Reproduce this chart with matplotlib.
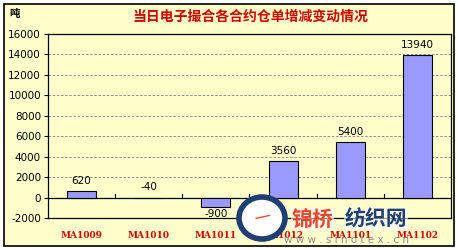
import numpy as np
import matplotlib.pyplot as plt
from matplotlib.patches import Rectangle, Ellipse

plt.rcParams['font.family'] = ['Noto Sans CJK SC', 'DejaVu Sans']

# data
contracts = ['MA1009', 'MA1010', 'MA1011', 'MA1012', 'MA1101', 'MA1102']
changes = [620, -40, -900, 3560, 5400, 13940]
y_ticks = [-2000, 0, 2000, 4000, 6000, 8000, 10000, 12000, 14000, 16000]

bg = '#FFFFCC'
bar_color = '#9999FF'

fig = plt.figure(figsize=(4.58, 2.5), dpi=100)
fig.patch.set_facecolor('white')

# outer frame
W, H = 458, 250
fig.patches.append(Rectangle((4 / W, 4 / H), 450 / W, 242 / H, transform=fig.transFigure,
                             facecolor=bg, edgecolor='black', linewidth=1.2, zorder=-10))

ax = fig.add_axes([48 / W, 32 / H, 403 / W, 184 / H])
ax.set_facecolor(bg)

x = np.arange(len(contracts))
ax.bar(x, changes, width=0.43, color=bar_color, edgecolor='black', linewidth=0.8, zorder=3)

for xi, v in zip(x, changes):
    if v > -300:
        ax.text(xi, max(v, 0) + 500, str(v), ha='center', va='bottom', fontsize=7.5,
                family='DejaVu Sans', zorder=4)
    else:
        ax.text(xi, v - 200, str(v), ha='center', va='top', fontsize=7.5,
                family='DejaVu Sans', zorder=4)

ax.set_xlim(-0.5, len(contracts) - 0.5)
ax.set_ylim(-2000, 16000)
ax.set_yticks(y_ticks)
ax.set_yticklabels([str(t) for t in y_ticks], fontsize=7.5, family='DejaVu Sans')
ax.tick_params(axis='y', length=3, width=0.8, pad=2)

# dashed grid
for t in y_ticks[2:-1]:
    ax.axhline(t, color='#808080', linestyle=(0, (3, 2)), linewidth=0.6, zorder=1)

# zero line with category separators
ax.axhline(0, color='black', linewidth=0.9, zorder=2)
for b in np.arange(0.5, len(contracts) - 0.5, 1):
    ax.plot([b, b], [0, 350], color='black', linewidth=0.8, zorder=2)

ax.set_xticks(x)
ax.set_xticklabels(contracts, fontsize=6.5, color='#CC0000', fontweight='heavy',
                   family='DejaVu Serif')
ax.tick_params(axis='x', length=0, pad=9)

for s in ax.spines.values():
    s.set_linewidth(0.9)

fig.text(9 / W, 1 - 14 / H, '吨', fontsize=7.5, fontweight='bold', va='center', ha='left')
fig.text(250 / W, 1 - 17 / H, '当日电子撮合各合约仓单增减变动情况', fontsize=10,
         fontweight='heavy', color='#CC0000', ha='center', va='center')

# watermark
fig.patches.append(Ellipse((262 / W, 1 - 218 / H), 46 / W, 42 / H, transform=fig.transFigure,
                           facecolor='white', edgecolor='#1F3F73', linewidth=4, zorder=9))
fig.text(262 / W, 1 - 216 / H, '—', fontsize=12, color='#E8472E', ha='center', va='center',
         rotation=12, zorder=10, family='DejaVu Sans')
fig.text(312 / W, 1 - 219 / H, '锦桥', fontsize=15, fontweight='bold', color='#E8472E',
         ha='center', va='center', zorder=10,
         bbox=dict(facecolor='white', edgecolor='none', alpha=0.6, pad=0.5))
fig.text(376 / W, 1 - 219 / H, '纺织网', fontsize=15, fontweight='bold', color='#1F3F73',
         ha='center', va='center', zorder=10,
         bbox=dict(facecolor='white', edgecolor='none', alpha=0.6, pad=0.5))
fig.text(346 / W, 1 - 240 / H, 'w w w . s i n o t e x . c n', fontsize=7.5, color='#8A8A8A',
         ha='center', va='center', zorder=10, family='DejaVu Sans')

fig.savefig('out.png', dpi=100)
